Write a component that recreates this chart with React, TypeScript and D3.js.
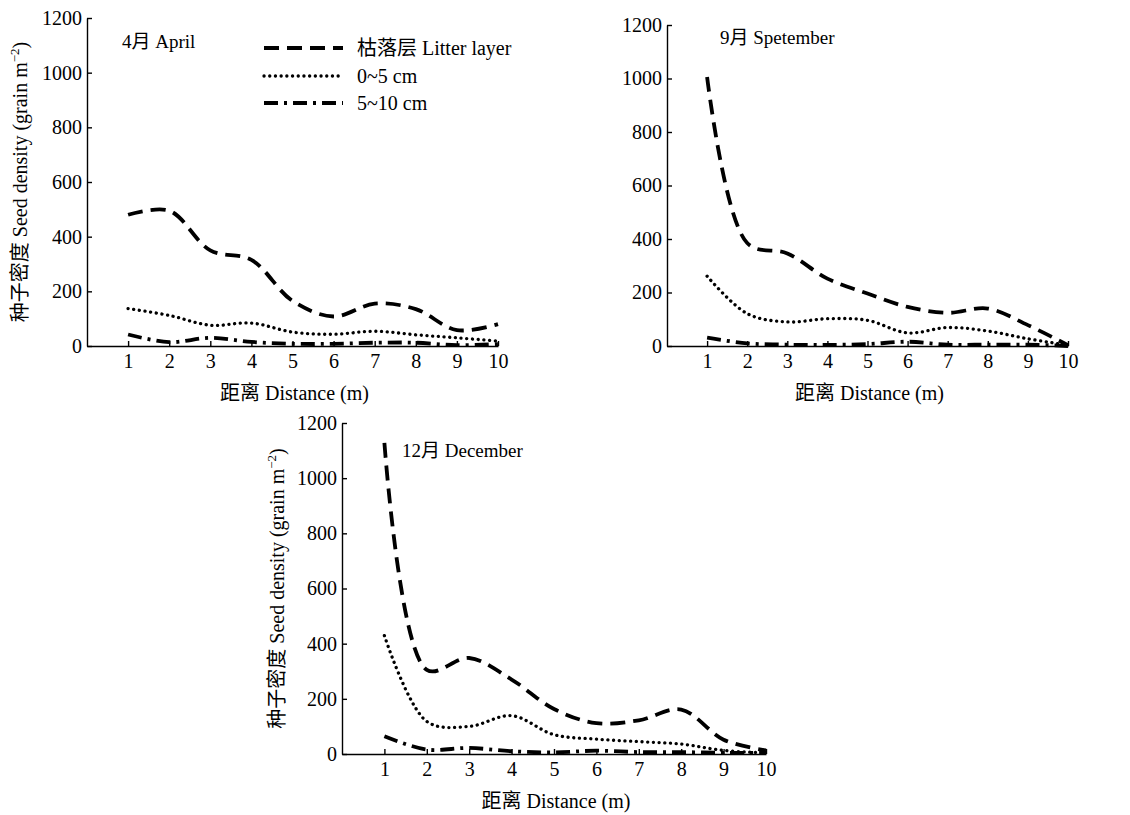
import React, { useEffect, useRef } from 'react';
import * as d3 from 'd3';

const distances = [1, 2, 3, 4, 5, 6, 7, 8, 9, 10];
const yTicks = [0, 200, 400, 600, 800, 1000, 1200];
const seriesNames = ['枯落层 Litter layer', '0~5 cm', '5~10 cm'];

const aprilLitter = [480, 495, 350, 315, 165, 108, 155, 135, 58, 80];
const aprilTop = [137, 112, 76, 84, 51, 43, 54, 41, 30, 18];
const aprilDeep = [42, 14, 30, 15, 8, 8, 12, 12, 3, 7];

const septLitter = [1006, 385, 346, 252, 196, 146, 124, 140, 78, 3];
const septTop = [261, 121, 90, 102, 96, 49, 69, 56, 27, 3];
const septDeep = [31, 10, 5, 4, 7, 16, 5, 5, 5, 0];

const decLitter = [1128, 305, 348, 270, 163, 112, 122, 161, 52, 13];
const decTop = [429, 118, 100, 139, 70, 54, 45, 36, 13, 4];
const decDeep = [64, 16, 22, 10, 6, 12, 7, 7, 4, 4];

const FONT = "'Liberation Serif', 'DejaVu Serif', serif, 'Noto Sans CJK SC'";

// line styles for litter / 0~5 / 5~10
const styles = [
  { dash: '15 8', cap: 'butt', width: 3.8 },
  { dash: '0.1 5.6', cap: 'round', width: 3.3 },
  { dash: '14 6 3 6', cap: 'butt', width: 3.8 },
];

const panels = [
  { title: '4月 April', series: [aprilLitter, aprilTop, aprilDeep], x: [87, 498], y: [346, 18],
    titlePos: [122, 48], xLabelY: 400, yLabelX: 27, legend: true },
  { title: '9月 Spetember', series: [septLitter, septTop, septDeep], x: [667, 1068], y: [346, 25],
    titlePos: [720, 44], xLabelY: 400, yLabelX: null, legend: false },
  { title: '12月 December', series: [decLitter, decTop, decDeep], x: [342, 766], y: [754, 423],
    titlePos: [402, 457], xLabelY: 808, yLabelX: 284, legend: false },
];

const App = () => {
  const ref = useRef<SVGSVGElement>(null);

  useEffect(() => {
    const svg = d3.select(ref.current);
    svg.selectAll('*').remove();

    panels.forEach(p => {
      const g = svg.append('g').attr('font-family', FONT);
      const xScale = d3.scaleLinear().domain([0, 10]).range(p.x);
      const yScale = d3.scaleLinear().domain([0, 1200]).range(p.y);

      const yAxis = g.append('g')
        .attr('transform', `translate(${p.x[0]},0)`)
        .call(d3.axisLeft(yScale).tickValues(yTicks).tickFormat(d3.format('d'))
          .tickSizeInner(-5).tickSizeOuter(0).tickPadding(5));
      const xAxis = g.append('g')
        .attr('transform', `translate(0,${p.y[0]})`)
        .call(d3.axisBottom(xScale).tickValues(distances).tickFormat(d3.format('d'))
          .tickSizeInner(-5).tickSizeOuter(0).tickPadding(8));
      [yAxis, xAxis].forEach(a => {
        a.attr('font-family', FONT).attr('font-size', 20);
        a.selectAll('path, line').attr('stroke', '#000').attr('stroke-width', 1.4);
        a.selectAll('text').attr('fill', '#000');
      });

      const line = d3.line<number>()
        .x((_, i) => xScale(distances[i]))
        .y(d => yScale(d))
        .curve(d3.curveCatmullRom);

      p.series.forEach((vals, i) => {
        g.append('path')
          .attr('d', line(vals))
          .attr('fill', 'none')
          .attr('stroke', '#000')
          .attr('stroke-width', styles[i].width)
          .attr('stroke-dasharray', styles[i].dash)
          .attr('stroke-linecap', styles[i].cap);
      });

      g.append('text')
        .attr('x', p.titlePos[0]).attr('y', p.titlePos[1])
        .attr('font-size', 19).attr('fill', '#000')
        .text(p.title);

      g.append('text')
        .attr('x', (p.x[0] + p.x[1]) / 2 + 2).attr('y', p.xLabelY)
        .attr('text-anchor', 'middle')
        .attr('font-size', 20).attr('fill', '#000')
        .text('距离 Distance (m)');

      if (p.yLabelX !== null) {
        const t = g.append('text')
          .attr('transform', `translate(${p.yLabelX},${(p.y[0] + p.y[1]) / 2}) rotate(-90)`)
          .attr('text-anchor', 'middle')
          .attr('font-size', 20).attr('fill', '#000');
        t.append('tspan').text('种子密度 Seed density (grain m');
        t.append('tspan').attr('font-size', 13).attr('dy', -8).text('−2');
        t.append('tspan').attr('dy', 8).text(')');
      }

      if (p.legend) {
        const rows = [48, 76, 103];
        seriesNames.forEach((name, i) => {
          g.append('line')
            .attr('x1', 264).attr('x2', 343).attr('y1', rows[i]).attr('y2', rows[i])
            .attr('stroke', '#000')
            .attr('stroke-width', styles[i].width)
            .attr('stroke-dasharray', styles[i].dash)
            .attr('stroke-linecap', styles[i].cap);
          g.append('text')
            .attr('x', 357).attr('y', rows[i]).attr('dy', '0.36em')
            .attr('font-size', 20).attr('fill', '#000')
            .text(name);
        });
      }
    });
  }, []);

  return (
    <svg ref={ref} width={1130} height={815}
      style={{ position: 'absolute', left: 0, top: 0, background: '#fff' }} />
  );
};

export default App;
